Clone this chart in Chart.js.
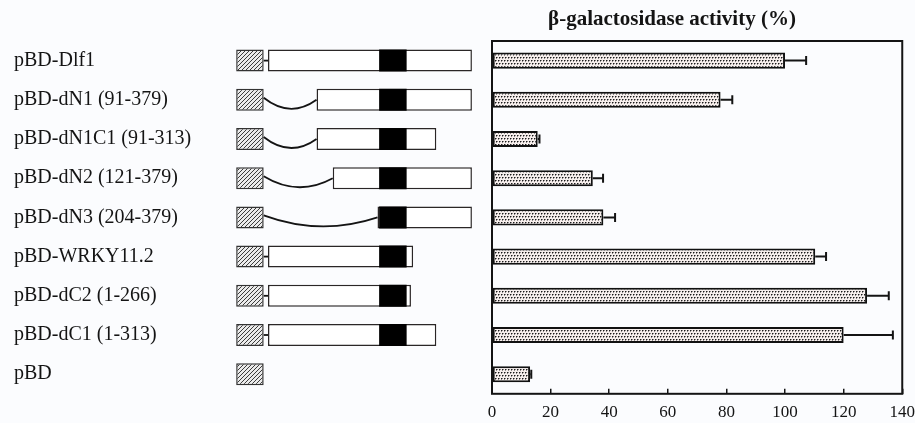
<!DOCTYPE html>
<html>
<head>
<meta charset="utf-8">
<script src="https://cdn.jsdelivr.net/npm/chart.js@4.4.1/dist/chart.umd.min.js"></script>
<style>
  html, body { margin: 0; padding: 0; background: #fbfcfe; }
  #wrap { position: relative; width: 915px; height: 423px; overflow: hidden; }
  canvas { position: absolute; top: 0; }
  #constructs { left: 0; }
  #activity { left: 429px; }
</style>
</head>
<body>
<div id="wrap">
  <canvas id="constructs" width="480" height="423"></canvas>
  <canvas id="activity" width="486" height="423"></canvas>
</div>
<script>
// Construct names (rows, top to bottom)
const constructs = [
  'pBD-Dlf1',
  'pBD-dN1 (91-379)',
  'pBD-dN1C1 (91-313)',
  'pBD-dN2 (121-379)',
  'pBD-dN3 (204-379)',
  'pBD-WRKY11.2',
  'pBD-dC2 (1-266)',
  'pBD-dC1 (1-313)',
  'pBD'
];
// Retained protein region of each construct (amino-acid positions)
const regionStart = [1, 91, 91, 121, 204, 1, 1, 1, null];
const regionEnd   = [379, 379, 313, 379, 379, 270, 266, 313, null];
// WRKY domain and the fused binding domain (schematic residue coordinates)
const wrkyDomain = [207, 258];
const bindingDomain = [-58, -7];

// beta-galactosidase activity (%) and error (SD)
const activity    = [100, 78, 15.6, 34.4, 38, 110.3, 128, 120, 13];
const activityErr = [7.2, 4, 0.6, 3.5, 4, 3.7, 7.4, 16.8, 0.4];
const activityTicks = [0, 20, 40, 60, 80, 100, 120, 140];

const serif = "'Liberation Serif', 'Times New Roman', serif";
const ink = '#141414';

function makeTile(w, h, paint) {
  const c = document.createElement('canvas');
  c.width = w; c.height = h;
  paint(c.getContext('2d'));
  return c;
}

const hatchTile = makeTile(4, 4, g => {
  g.fillStyle = '#ebebeb'; g.fillRect(0, 0, 4, 4);
  g.strokeStyle = '#3c3c3c'; g.lineWidth = 1;
  g.beginPath();
  g.moveTo(-1, 5); g.lineTo(5, -1);
  g.moveTo(-1, 1); g.lineTo(1, -1);
  g.moveTo(3, 5); g.lineTo(5, 3);
  g.stroke();
});

// Staggered dot screen for the activity bars
const dotTile = makeTile(6, 6, g => {
  g.fillStyle = '#f6eeec'; g.fillRect(0, 0, 6, 6);
  g.fillStyle = '#1c1c1c';
  [[0, 0], [3, 0], [1, 3], [4, 3]].forEach(([x, y]) => g.fillRect(x, y, 1, 1));
  g.fillStyle = '#8c8888';
  [[1, 0], [4, 0], [2, 3], [5, 3], [0, 1], [3, 1], [1, 4], [4, 4]].forEach(([x, y]) => g.fillRect(x, y, 1, 1));
});

const leftCanvas = document.getElementById('constructs');
const rightCanvas = document.getElementById('activity');
const hatch = leftCanvas.getContext('2d').createPattern(hatchTile, 'repeat');
const dots = rightCanvas.getContext('2d').createPattern(dotTile, 'repeat');

// Linkers between the binding domain and the retained region
const linkers = {
  id: 'linkers',
  afterDatasetsDraw(chart) {
    const {ctx, scales: {x, y}} = chart;
    ctx.save();
    ctx.strokeStyle = ink;
    ctx.lineWidth = 1.8;
    regionStart.forEach((s, i) => {
      if (s == null) return;
      const cy = y.getPixelForValue(i);
      const x0 = x.getPixelForValue(bindingDomain[1]);
      const x1 = x.getPixelForValue(s);
      ctx.beginPath();
      if (s <= 1) {
        ctx.moveTo(x0, cy);
        ctx.lineTo(x1, cy);
      } else {
        ctx.moveTo(x0, cy - 2);
        ctx.quadraticCurveTo((x0 + x1) / 2, cy + 19, x1, cy);
      }
      ctx.stroke();
    });
    ctx.restore();
  }
};

new Chart(leftCanvas, {
  type: 'bar',
  data: {
    labels: constructs,
    datasets: [
      {
        label: 'WRKY domain',
        data: regionStart.map(s => (s == null ? null : wrkyDomain)),
        backgroundColor: '#000',
        borderWidth: 0,
        order: 0
      },
      {
        label: 'Retained region',
        data: regionStart.map((s, i) => (s == null ? null : [s, regionEnd[i]])),
        backgroundColor: '#ffffff',
        borderColor: '#2a2626',
        borderWidth: 1.5,
        borderSkipped: false,
        order: 1
      },
      {
        label: 'Binding domain',
        data: constructs.map(() => bindingDomain),
        backgroundColor: hatch,
        borderColor: '#333',
        borderWidth: 1.5,
        borderSkipped: false,
        order: 2
      }
    ]
  },
  options: {
    indexAxis: 'y',
    responsive: false,
    animation: false,
    devicePixelRatio: 1,
    layout: { padding: { top: 41, bottom: 29.2, left: 14, right: 0 } },
    datasets: { bar: { grouped: false, barPercentage: 0.56, categoryPercentage: 1 } },
    plugins: { legend: { display: false }, tooltip: { enabled: false } },
    scales: {
      x: { type: 'linear', display: false, min: -88, max: 394 },
      y: {
        type: 'category',
        grid: { display: false, drawTicks: false },
        border: { display: false },
        ticks: { crossAlign: 'far', padding: 0, color: ink, font: { family: serif, size: 20 } },
        afterFit(scale) { scale.width = 206; }
      }
    }
  },
  plugins: [linkers]
});

// Box around the plot area
const frame = {
  id: 'frame',
  afterDatasetsDraw(chart) {
    const {ctx, chartArea: a} = chart;
    ctx.save();
    ctx.strokeStyle = ink;
    ctx.lineWidth = 2;
    ctx.strokeRect(a.left, a.top, a.right - a.left, a.bottom - a.top);
    ctx.restore();
  }
};

// One-sided error bars with an end cap
const errorBars = {
  id: 'errorBars',
  afterDatasetsDraw(chart) {
    const {ctx, scales: {x, y}} = chart;
    ctx.save();
    ctx.strokeStyle = ink;
    ctx.lineWidth = 2;
    activity.forEach((v, i) => {
      const cy = y.getPixelForValue(i);
      const x0 = x.getPixelForValue(v);
      const x1 = x.getPixelForValue(v + activityErr[i]);
      ctx.beginPath();
      ctx.moveTo(x0, cy);
      ctx.lineTo(x1, cy);
      ctx.moveTo(x1, cy - 4.5);
      ctx.lineTo(x1, cy + 4.5);
      ctx.stroke();
    });
    ctx.restore();
  }
};

new Chart(rightCanvas, {
  type: 'bar',
  data: {
    labels: constructs,
    datasets: [{
      label: 'β-galactosidase activity (%)',
      data: activity,
      backgroundColor: dots,
      borderColor: '#111',
      borderWidth: 2,
      borderSkipped: false,
      barPercentage: 0.41,
      categoryPercentage: 1
    }]
  },
  options: {
    indexAxis: 'y',
    responsive: false,
    animation: false,
    devicePixelRatio: 1,
    layout: { padding: 0 },
    plugins: {
      legend: { display: false },
      tooltip: { enabled: false },
      title: {
        display: true,
        text: 'β-galactosidase activity (%)',
        color: ink,
        font: { family: serif, size: 21, weight: 'bold', lineHeight: '25px' },
        padding: { top: 7, bottom: 9 }
      }
    },
    scales: {
      x: {
        type: 'linear',
        min: activityTicks[0],
        max: activityTicks[activityTicks.length - 1],
        afterBuildTicks(scale) { scale.ticks = activityTicks.map(v => ({ value: v })); },
        ticks: { color: ink, padding: 0, font: { family: serif, size: 17, lineHeight: '48px' } },
        grid: { drawOnChartArea: false, tickLength: -5, color: ink, lineWidth: 1.5 },
        border: { display: false },
        afterFit(scale) { scale.height = 29.2; }
      },
      y: {
        type: 'category',
        ticks: { display: false },
        grid: { display: false, drawTicks: false },
        border: { display: false },
        afterFit(scale) { scale.width = 63; }
      }
    }
  },
  plugins: [frame, errorBars]
});
</script>
</body>
</html>
